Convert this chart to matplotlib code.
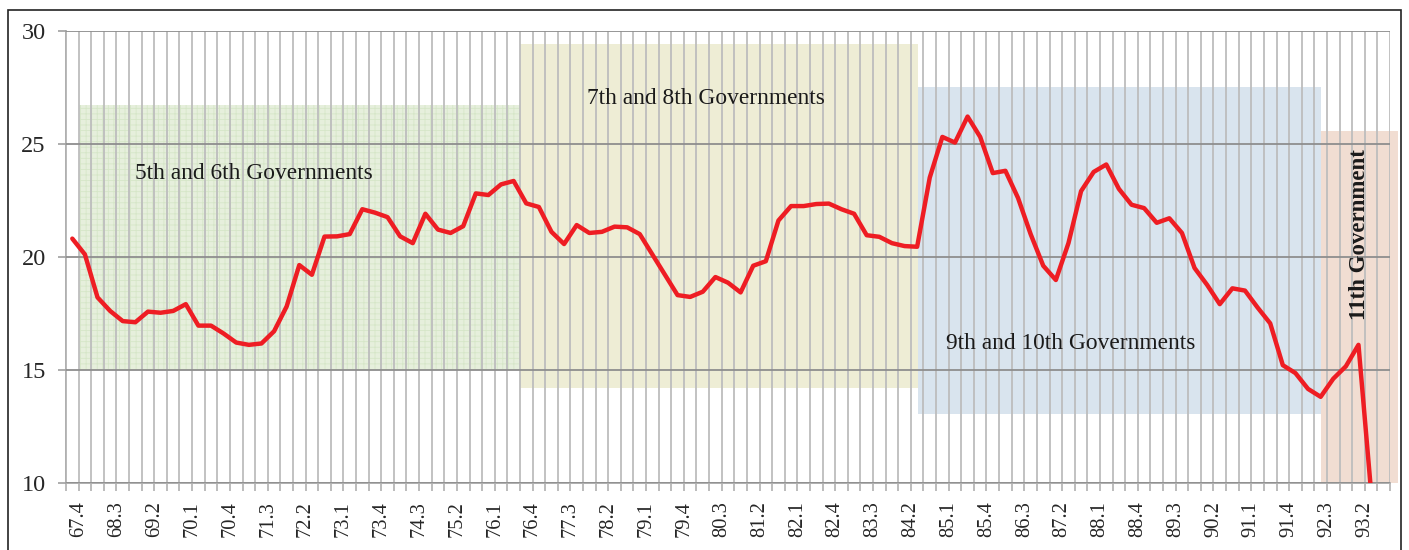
import numpy as np
import matplotlib
matplotlib.use("Agg")
import matplotlib.pyplot as plt
from matplotlib.patches import Rectangle

# ---------------- data ----------------
tick_labels = ["67.4", "68.3", "69.2", "70.1", "70.4", "71.3", "72.2", "73.1", "73.4",
               "74.3", "75.2", "76.1", "76.4", "77.3", "78.2", "79.1", "79.4", "80.3",
               "81.2", "82.1", "82.4", "83.3", "84.2", "85.1", "85.4", "86.3", "87.2",
               "88.1", "88.4", "89.3", "90.2", "91.1", "91.4", "92.3", "93.2"]

# quarterly values (one per quarter, first quarter starts at the left axis)
values = [20.8, 20.1, 18.2, 17.6, 17.15, 17.1, 17.57, 17.52, 17.6, 17.9,
          16.95, 16.95, 16.6, 16.2, 16.1, 16.16, 16.7, 17.8, 19.63, 19.2,
          20.89, 20.9, 21.0, 22.1, 21.95, 21.75, 20.9, 20.6, 21.9, 21.2,
          21.05, 21.35, 22.8, 22.73, 23.2, 23.35, 22.36, 22.2, 21.1, 20.56,
          21.4, 21.05, 21.1, 21.33, 21.3, 21.0, 20.1, 19.2, 18.3, 18.22,
          18.45, 19.1, 18.85, 18.42, 19.6, 19.8, 21.6, 22.24, 22.24, 22.33,
          22.35, 22.1, 21.9, 20.95, 20.88, 20.6, 20.47, 20.44, 23.5, 25.3,
          25.05, 26.2, 25.3, 23.7, 23.8, 22.6, 21.0, 19.6, 18.97, 20.6,
          22.9, 23.75, 24.08, 23.0, 22.3, 22.15, 21.5, 21.7, 21.05, 19.5,
          18.75, 17.9, 18.6, 18.5, 17.75, 17.05, 15.2, 14.85, 14.15, 13.8,
          14.6, 15.15, 16.1, 9.6]

# government periods (in quarter units) and the vertical extent of each band
gov_names = ["5th and 6th Governments", "7th and 8th Governments",
             "9th and 10th Governments", "11th Government"]
gov_start = [1.0, 36.0, 67.6, 99.5]
gov_end = [36.0, 67.6, 99.5, 105.6]
band_low = [15.0, 14.2, 13.05, 10.0]
band_high = [26.7, 29.4, 27.5, 25.55]
band_colors = ["#E6EFDC", "#EEEDD5", "#D9E4EE", "#F1DDD2"]

# ---------------- figure ----------------
W, H = 1409, 550
fig = plt.figure(figsize=(W / 100, H / 100), dpi=100)
fig.patch.set_facecolor("white")
ax = fig.add_axes([66 / W, (H - 482.7) / H, (1390 - 66) / W, (482.7 - 30.7) / H])

n_q = 105
ax.set_xlim(0, n_q)
ax.set_ylim(10, 30)

plt.rcParams["hatch.linewidth"] = 0.6

# bands
for i, (s, e, lo, hi, c) in enumerate(zip(gov_start, gov_end, band_low, band_high, band_colors)):
    r = Rectangle((s, lo), e - s, hi - lo, facecolor=c, edgecolor="none",
                  zorder=0.5, clip_on=False)
    ax.add_patch(r)
    if i == 0:
        h = Rectangle((s, lo), e - s, hi - lo, facecolor="none", edgecolor="#D6E6C8",
                      hatch="+++", linewidth=0, zorder=0.6, clip_on=False)
        ax.add_patch(h)

serif = ["Liberation Serif", "DejaVu Serif"]

# grid
ax.set_xticks(np.arange(0, n_q + 1), minor=True)
ax.set_xticks(np.arange(1, 1 + 3 * len(tick_labels), 3))
ax.set_xticklabels(tick_labels, rotation=90, fontsize=14.8, family=serif, color="#262626")
ax.set_yticks([10, 15, 20, 25, 30])
ax.set_yticklabels(["10", "15", "20", "25", "30"], fontsize=17.5, family=serif,
                   color="#262626")
ax.xaxis.grid(True, which="both", color="#BDBDBD", linewidth=1.3, zorder=1)
ax.yaxis.grid(True, which="major", color="#8E8E8E", linewidth=1.3, zorder=1)
ax.set_axisbelow(False)
ax.tick_params(axis="x", which="both", length=5.5, width=1.2, color="#B0B0B0", pad=8)
ax.tick_params(axis="y", which="major", length=6, width=1.2, color="#A0A0A0", pad=8.5)
ax.tick_params(axis="y", which="minor", length=0)
for side in ["top", "right"]:
    ax.spines[side].set_visible(False)
for side in ["left", "bottom"]:
    ax.spines[side].set_color("#A8A8A8")
    ax.spines[side].set_linewidth(1.3)
ax.set_facecolor("white")

# series
x = np.arange(len(values)) + 0.5
ax.plot(x, values, color="#EE1D23", linewidth=3.2, solid_joinstyle="round",
        solid_capstyle="round", zorder=3)

# annotations
ax.text(14.9, 23.7, gov_names[0], fontsize=16.8, family=serif, ha="center", va="center",
        color="#1A1A1A", zorder=4)
ax.text(50.75, 27.02, gov_names[1], fontsize=16.8, family=serif, ha="center", va="center",
        color="#1A1A1A", zorder=4)
ax.text(79.7, 16.14, gov_names[2], fontsize=16.8, family=serif, ha="center", va="center",
        color="#1A1A1A", zorder=4)
ax.text(102.6, 21.0, gov_names[3], fontsize=16.5, family=serif, ha="center", va="center",
        rotation=90, fontweight="bold", color="#1A1A1A", zorder=4)

# outer frame
frame = Rectangle((7.5 / W, -0.01), (1401 - 7.5) / W, 1 - 9.5 / H + 0.01,
                  transform=fig.transFigure, facecolor="none", edgecolor="#222222",
                  linewidth=1.2)
fig.patches.append(frame)

fig.savefig("out.png", dpi=100)
